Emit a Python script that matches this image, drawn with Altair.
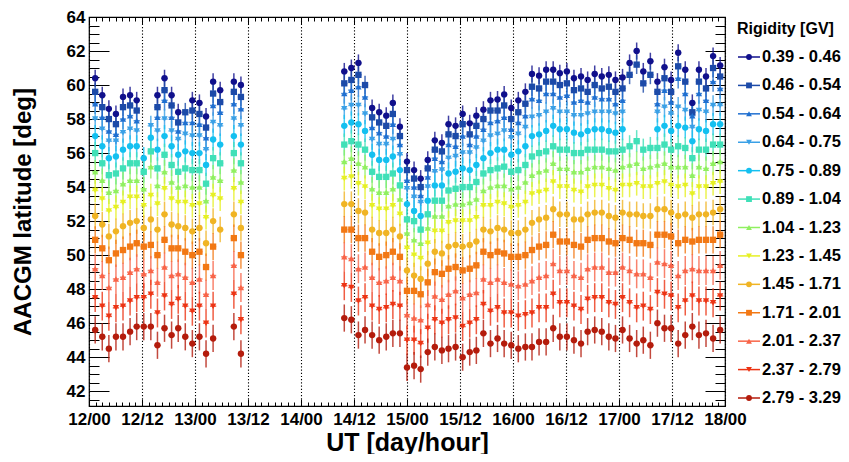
import altair as alt
import pandas as pd

# ---------------- data ----------------
# hours after 12/00 UT (one point per orbit)
hours = [1.4, 3.0, 4.5, 6.1, 7.7, 9.3, 10.8, 12.4, 14.0, 15.5, 17.1, 18.7, 20.2, 21.8,
         23.4, 25.0, 26.5, 28.1, 29.7, 32.8, 34.4,
         57.8, 59.4, 61.0, 62.5, 64.1, 65.7, 67.3, 68.8, 70.4, 72.0,
         73.6, 75.1, 76.7, 78.3, 79.9, 81.4, 83.0, 84.6, 86.2, 87.7,
         89.3, 90.9, 92.5, 94.0, 95.6, 97.2, 98.8, 100.3, 101.9, 103.5,
         105.1, 106.6, 108.2, 109.8, 111.4, 112.9, 114.5, 116.1, 117.7, 119.2,
         120.8, 122.4, 124.0, 125.5, 127.1, 128.7, 130.3, 131.8, 133.4, 135.0,
         136.6, 138.1, 139.7, 141.3, 142.9]

rigidity = ["0.39 - 0.46", "0.46 - 0.54", "0.54 - 0.64", "0.64 - 0.75", "0.75 - 0.89",
            "0.89 - 1.04", "1.04 - 1.23", "1.23 - 1.45", "1.45 - 1.71", "1.71 - 2.01",
            "2.01 - 2.37", "2.37 - 2.79", "2.79 - 3.29"]

lat_039 = [60.4, 59.4, 58.6, 58.3, 59.3, 59.4, 59.1, None, None, 59.4, 60.4, 59.4, 58.4, None, 59.1, 58.95, 58.15, 60.2, 59.7, 60.2, 60.0,
           60.8, 61.0, 61.3, None, 58.65, 58.4, 58.2, 58.95, 57.55, 55.5, 55.0, 54.5, 55.6, 56.75, 56.6, 57.7, 57.6, 58.3, 57.75, 58.2,
           58.55, 59.1, 59.15, 59.45, 58.65, 59.1, 59.6, 60.65, 60.55, 60.9, 60.9, 60.7, 60.8, 60.4, 60.5, 60.3, 60.65, 60.5, 60.6, 60.3,
           60.45, 61.3, 62.0, 60.8, 61.4, 60.2, 61.05, 60.3, 61.9, 60.9, 58.95, 60.9, 60.5, 61.7, 61.15]
lat_046 = [59.6, 58.7, 58.0, 57.7, 58.7, 58.8, 58.5, None, None, 58.7, 59.7, 58.8, 57.8, 58.4, 58.5, 58.3, 57.5, 59.5, 59.0, 59.6, 59.3,
           60.1, 60.3, 60.6, 60.0, 58.1, 57.8, 57.6, 58.3, 57.0, 55.0, 54.5, 54.0, 55.1, 56.2, 56.1, 57.1, 57.0, 57.7, 57.1, 57.6,
           58.0, 58.5, 58.5, 58.8, 58.0, 58.4, 58.9, 59.9, 59.8, 60.2, 60.2, 60.0, 60.1, 59.7, 59.8, 59.6, 60.0, 59.8, 59.9, 59.6,
           59.8, 60.6, 61.2, 60.1, 60.6, 59.6, 60.4, 59.6, 61.1, 60.2, 58.4, 60.2, 59.8, 61.0, 60.5]
lat_054 = [58.9, 58.1, 57.3, 57.1, 58.0, 58.2, 57.9, None, None, 58.1, 59.1, 58.1, 57.3, 57.8, 57.8, 57.7, 56.9, 58.8, 58.4, 58.9, 58.6,
           59.5, 59.7, 59.9, 59.3, 57.5, 57.2, 57.0, 57.7, 56.5, 54.4, 54.0, 53.5, 54.6, 55.7, 55.5, 56.5, 56.4, 57.0, 56.5, 57.0,
           57.4, 57.8, 57.9, 58.1, 57.4, 57.8, 58.2, 59.2, 59.1, 59.5, 59.5, 59.3, 59.4, 59.0, 59.1, 59.0, 59.3, 59.2, 59.2, 58.9,
           59.1, None, None, None, None, 58.9, 59.7, 59.0, 60.4, 59.5, 58.2, 59.5, 59.1, 60.2, 59.8]
lat_064 = [58.0, 57.4, 56.7, 56.7, 57.2, 57.4, 57.3, None, 57.6, 57.3, 58.0, 57.3, 56.8, 57.1, 57.0, 57.0, 56.2, 57.8, 57.6, 58.0, 57.6,
           58.6, 58.8, 58.8, 58.3, 56.8, 56.5, 56.5, 56.8, 55.9, 53.9, 53.4, 53.1, 54.0, 54.9, 55.0, 55.7, 55.8, 56.0, 56.0, 56.3,
           56.7, 57.0, 57.1, 57.3, 56.9, 57.1, 57.5, 58.1, 58.2, 58.4, 58.6, 58.4, 58.4, 58.2, 58.2, 58.3, 58.4, 58.4, 58.4, 58.3,
           58.4, None, None, None, None, 58.4, 58.7, 58.3, 58.7, 58.5, 57.5, 58.5, 58.4, 58.8, 58.8]
lat_075 = [57.0, 56.4, 55.7, 55.8, 56.2, 56.4, 56.4, 55.7, 56.9, 56.2, 57.0, 56.4, 55.9, 56.1, 56.0, 56.0, 55.3, 56.8, 56.5, 57.0, 56.5,
           57.6, 57.8, 57.7, 57.3, 55.9, 55.6, 55.6, 55.8, 55.0, 53.0, 52.6, 52.3, 53.2, 54.1, 54.1, 54.8, 54.9, 55.1, 55.0, 55.3,
           55.7, 56.0, 56.2, 56.2, 55.9, 56.1, 56.4, 57.0, 57.1, 57.3, 57.6, 57.4, 57.4, 57.2, 57.1, 57.3, 57.4, 57.4, 57.3, 57.2,
           57.4, None, None, None, None, 57.4, 57.6, 57.3, 57.6, 57.5, 56.7, 57.4, 57.3, 57.7, 57.7]
lat_089 = [56.0, 55.4, 54.7, 54.8, 55.1, 55.4, 55.4, 54.9, 56.1, 55.1, 55.9, 55.3, 54.9, 55.1, 55.0, 55.0, 54.2, 55.7, 55.4, 56.0, 55.4,
           56.5, 56.7, 56.5, 56.2, 54.9, 54.6, 54.6, 54.8, 54.1, 52.1, 52.0, 51.5, 52.4, 53.2, 53.2, 53.8, 53.9, 54.0, 54.0, 54.3,
           54.8, 55.0, 55.1, 55.2, 54.9, 55.0, 55.3, 55.8, 56.0, 56.1, 56.4, 56.2, 56.2, 56.0, 56.0, 56.2, 56.2, 56.2, 56.1, 56.1,
           56.2, 56.4, 56.7, 56.2, 56.3, 56.3, 56.5, 56.2, 56.4, 56.3, 55.7, 56.2, 56.2, 56.5, 56.5]
lat_104 = [54.9, 54.4, 53.7, 53.8, 54.2, 54.4, 54.4, 53.9, 55.2, 54.1, 54.9, 54.3, 54.0, 54.1, 54.0, 54.0, 53.2, 54.6, 54.4, 55.0, 54.3,
           55.5, 55.7, 55.4, 55.2, 53.9, 53.7, 53.7, 53.9, 53.3, 51.3, 50.9, 50.7, 51.6, 52.3, 52.3, 52.9, 53.0, 53.0, 53.1, 53.3,
           53.8, 54.0, 54.1, 54.1, 53.9, 54.0, 54.3, 54.7, 54.9, 55.0, 55.4, 55.1, 55.1, 54.9, 54.9, 55.1, 55.2, 55.2, 55.1, 55.0,
           55.2, 55.3, 55.4, 55.1, 55.2, 55.3, 55.4, 55.2, 55.2, 55.2, 54.7, 55.2, 55.1, 55.4, 55.5]
lat_123 = [53.8, 53.3, 52.6, 52.8, 53.1, 53.4, 53.4, 52.9, 53.5, 53.0, 53.9, 53.3, 53.1, 53.1, 52.9, 53.0, 52.2, 53.5, 53.3, 53.9, 53.1,
           54.5, 54.6, 54.2, 54.0, 52.9, 52.7, 52.7, 52.9, 52.4, 50.4, 50.0, 49.8, 50.7, 51.4, 51.4, 51.9, 52.0, 52.0, 52.0, 52.2,
           52.9, 52.9, 53.1, 53.0, 52.8, 52.9, 53.1, 53.6, 53.7, 53.8, 54.3, 54.0, 54.0, 53.8, 53.7, 54.0, 54.1, 54.1, 53.9, 53.8,
           54.1, 54.1, 54.2, 54.0, 54.0, 54.2, 54.3, 54.1, 54.0, 54.1, 53.6, 54.0, 54.0, 54.2, 54.3]
lat_145 = [52.3, 51.8, 51.1, 51.4, 51.7, 51.9, 52.0, 51.6, 52.1, 51.5, 52.4, 51.8, 51.7, 51.6, 51.4, 51.6, 50.7, 52.0, 51.5, 52.4, 51.6,
           53.0, 53.0, 52.6, 52.5, 51.5, 51.3, 51.3, 51.5, 51.1, 49.1, 48.8, 48.6, 49.5, 50.2, 50.1, 50.5, 50.6, 50.5, 50.6, 50.8,
           51.5, 51.4, 51.6, 51.5, 51.3, 51.3, 51.5, 51.9, 52.1, 52.2, 52.7, 52.4, 52.4, 52.1, 52.1, 52.4, 52.5, 52.5, 52.3, 52.2,
           52.5, 52.4, 52.4, 52.3, 52.3, 52.7, 52.7, 52.5, 52.3, 52.4, 52.2, 52.4, 52.4, 52.5, 52.7]
lat_171 = [50.9, 50.4, 49.7, 50.1, 50.3, 50.5, 50.7, 50.5, 50.6, 50.0, 50.9, 50.4, 50.4, 50.2, 50.0, 50.2, 49.3, 50.5, None, 51.0, 50.0,
           51.5, 51.5, 51.0, 51.0, 50.2, 49.9, 50.0, 50.2, 49.9, 47.9, 47.9, 47.7, 48.4, 49.0, 48.9, 49.2, 49.3, 49.1, 49.2, 49.4,
           50.2, 50.0, 50.2, 50.1, 49.9, 49.9, 50.0, 50.3, 50.5, 50.6, 51.2, 50.8, 50.8, 50.6, 50.5, 50.9, 51.0, 51.0, 50.8, 50.7,
           51.0, 50.9, 50.7, 50.7, 50.6, 51.2, 51.2, 51.1, 50.7, 50.9, 50.8, 50.9, 50.9, 50.9, 51.2]
lat_201 = [49.2, 48.8, 48.1, 48.6, 48.7, 49.0, 49.2, 48.9, 49.1, 48.4, 49.3, 48.8, 48.9, 48.7, 48.4, 48.6, 47.7, 48.8, None, 49.4, 48.1,
           49.9, 49.8, 49.2, 49.3, 48.7, 48.4, 48.5, 48.7, 48.5, 46.5, 46.3, 46.2, 47.1, 47.6, 47.4, 47.7, 47.9, 47.5, 47.7, 47.8,
           48.6, 48.4, 48.6, 48.4, 48.3, 48.2, 48.3, 48.5, 48.7, 48.8, 49.5, 49.1, 49.1, 48.8, 48.7, 49.2, 49.3, 49.3, 49.0, 49.0,
           49.3, 49.1, 48.9, 48.9, 48.7, 49.6, 49.5, 49.4, 48.8, 49.1, 49.2, 49.1, 49.1, 49.1, 49.4]
lat_237 = [47.5, 47.0, 46.4, 46.9, 47.0, 47.3, 47.5, 47.5, 47.7, 46.6, 47.6, 47.1, 47.4, 47.0, 46.7, 47.0, 46.0, 47.0, None, 47.7, 46.2,
           48.2, 48.1, 47.3, 47.5, 47.0, 46.8, 46.9, 47.1, 47.0, 45.0, 45.0, 44.8, 45.7, 46.2, 46.0, 46.2, 46.3, 45.8, 46.0, 46.2,
           47.1, 46.7, 46.9, 46.6, 46.6, 46.4, 46.5, 46.6, 46.9, 46.9, 47.7, 47.2, 47.2, 47.0, 46.8, 47.4, 47.5, 47.5, 47.2, 47.1,
           47.5, 47.2, 46.9, 47.0, 46.8, 47.8, 47.7, 47.6, 46.9, 47.3, 47.6, 47.3, 47.3, 47.2, 47.6]
lat_279 = [45.6, 45.2, 44.5, 45.2, 45.2, 45.5, 45.8, 45.8, 45.8, 44.7, 45.7, 45.3, 45.7, 45.2, 44.8, 45.2, 44.2, 45.1, None, 45.8, 44.2,
           46.3, 46.2, 45.3, 45.6, 45.3, 45.0, 45.2, 45.4, 45.4, 43.4, 43.5, 43.3, 44.3, 44.6, 44.4, 44.5, 44.6, 44.0, 44.3, 44.4,
           45.4, 44.8, 45.1, 44.8, 44.7, 44.5, 44.6, 44.6, 44.9, 44.9, 45.7, 45.2, 45.2, 45.0, 44.8, 45.5, 45.6, 45.5, 45.2, 45.1,
           45.6, 45.1, 44.8, 45.0, 44.7, 46.0, 45.7, 45.7, 44.8, 45.3, 45.8, 45.3, 45.4, 45.1, 45.6]

series = [lat_039, lat_046, lat_054, lat_064, lat_075, lat_089, lat_104,
          lat_123, lat_145, lat_171, lat_201, lat_237, lat_279]
lat_err = [0.5, 0.55, 0.6, 0.6, 0.65, 0.65, 0.7, 0.7, 0.75, 0.8, 0.85, 0.85, 0.8]
time_half_width = 0.7

# ---------------- style ----------------
colors = ["#10108c", "#1c4aa8", "#1f6fd0", "#3aa0e6", "#14c0f0", "#40e0b8", "#90f060",
          "#e6f024", "#f0b424", "#f27814", "#f86448", "#ec3414", "#b41c0c"]
shapes = ["circle", "square", "triangle-up", "triangle-down"] * 3 + ["circle"]
FONT = "Liberation Sans"
W, H = 636, 389

rows = []
for lab, vals, err in zip(rigidity, series, lat_err):
    assert len(vals) == len(hours)
    for t, v in zip(hours, vals):
        if v is None:
            continue
        rows.append({"t": t, "lat": v, "bin": lab, "lo": v - err, "hi": v + err,
                     "t0": t - time_half_width, "t1": t + time_half_width})
df = pd.DataFrame(rows)

xs = alt.Scale(domain=[0, 144], nice=False, zero=False)
ys = alt.Scale(domain=[41.13, 64], nice=False, zero=False)
col = alt.Color("bin:N", scale=alt.Scale(domain=rigidity, range=colors), legend=None)
shp = alt.Shape("bin:N", scale=alt.Scale(domain=rigidity, range=shapes), legend=None)

major_x = list(range(0, 145, 12))
minor_x = [i * 1.5 for i in range(97)]
major_y = list(range(42, 65, 2))
minor_y = [41.5 + 0.5 * i for i in range(45)]

label_expr = "(12 + floor(datum.value / 24)) + '/' + (datum.value % 24 == 0 ? '00' : '12')"

x_main = alt.Axis(values=major_x, labelExpr=label_expr, title="UT [day/hour]",
                  grid=True, gridDash=[1.2, 2], gridColor="black", gridWidth=1.1, gridOpacity=1,
                  ticks=False, tickSize=0, domain=False, labelFlush=False, labelOverlap=False,
                  labelFont=FONT, labelFontWeight="bold", labelFontSize=17, labelColor="black",
                  labelPadding=5, titleFont=FONT, titleFontWeight="bold", titleFontSize=25,
                  titleColor="black", titlePadding=3)
y_main = alt.Axis(values=major_y, title="AACGM latitude [deg]", grid=False, ticks=False,
                  tickSize=0, domain=False, labelFlush=False, labelOverlap=False,
                  labelFont=FONT, labelFontWeight="bold", labelFontSize=17, labelColor="black",
                  labelPadding=4, titleFont=FONT, titleFontWeight="bold", titleFontSize=24,
                  titleColor="black", titlePadding=31)

vbar = alt.Chart(df).mark_rule(strokeWidth=1.5, opacity=0.8).encode(
    x=alt.X("t:Q", scale=xs, axis=x_main),
    y=alt.Y("lo:Q", scale=ys, axis=y_main), y2="hi:Q", color=col)
hbar = alt.Chart(df).mark_rule(strokeWidth=1.5, opacity=0.8).encode(
    x=alt.X("t0:Q", scale=xs, axis=None), x2="t1:Q",
    y=alt.Y("lat:Q", scale=ys, axis=None), color=col)
pts = alt.Chart(df).mark_point(filled=True, size=40, opacity=1).encode(
    x=alt.X("t:Q", scale=xs, axis=None),
    y=alt.Y("lat:Q", scale=ys, axis=None), color=col, shape=shp)


def tick_axis(orient, values, size):
    off = -(H if orient in ("top", "bottom") else W)
    return alt.Axis(orient=orient, offset=off, values=values, tickSize=size,
                    tickColor="black", tickWidth=1, labels=False, domain=False,
                    grid=False, title="")


one = df.head(1)


def tick_layer(xo, xv, xsz, yo, yv, ysz):
    return alt.Chart(one).mark_point(opacity=0).encode(
        x=alt.X("t:Q", scale=xs, axis=tick_axis(xo, xv, xsz)),
        y=alt.Y("lat:Q", scale=ys, axis=tick_axis(yo, yv, ysz)))


t1 = tick_layer("top", major_x, 7, "right", major_y, 20)
t2 = tick_layer("top", minor_x, 4, "right", minor_y, 10)
t3 = tick_layer("bottom", major_x, 7, "left", major_y, 20)
t4 = tick_layer("bottom", minor_x, 4, "left", minor_y, 10)

# ---------------- legend ----------------
leg = pd.DataFrame({"bin": rigidity})
ly = alt.Y("bin:N", sort=rigidity,
           scale=alt.Scale(type="point", domain=rigidity, range=[40, 381], padding=0),
           axis=None)
leg_line = alt.Chart(leg).mark_rule(strokeWidth=1.5).encode(
    y=ly, x=alt.value(649), x2=alt.value(671), color=col)
leg_pt = alt.Chart(leg).mark_point(filled=True, size=34, opacity=1).encode(
    y=ly, x=alt.value(660), color=col, shape=shp)
leg_txt = alt.Chart(leg).mark_text(align="left", baseline="middle", font=FONT,
                                   fontWeight="bold", fontSize=16.5, color="black").encode(
    y=ly, x=alt.value(673), text="bin:N")
leg_title = alt.Chart(pd.DataFrame({"name": ["Rigidity [GV]"]})).mark_text(
    align="left", baseline="middle", font=FONT, fontWeight="bold", fontSize=16,
    color="black").encode(x=alt.value(648), y=alt.value(12), text="name:N")

chart = alt.layer(vbar, hbar, pts, t1, t2, t3, t4, leg_line, leg_pt, leg_txt, leg_title).resolve_scale(
    y="independent").resolve_axis(x="independent", y="independent").properties(
    width=W, height=H,
    autosize=alt.AutoSizeParams(type="none"),
    padding={"left": 81, "top": 9, "right": 116, "bottom": 48},
).configure_view(stroke="black", strokeWidth=1.2)

chart.save("out.html", embed_options={"renderer": "svg", "actions": False})
